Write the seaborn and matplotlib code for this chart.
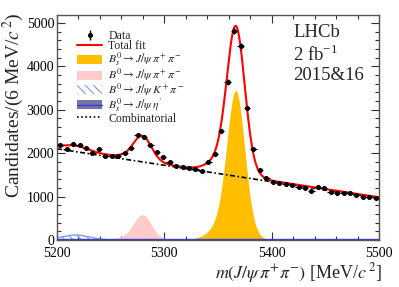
import numpy as np
import seaborn as sns
import matplotlib
matplotlib.use("Agg")
import matplotlib.pyplot as plt
from matplotlib.patches import Patch
from matplotlib.lines import Line2D
from matplotlib.legend_handler import HandlerTuple
from matplotlib.ticker import MultipleLocator


# Data: 6 MeV bins from 5200 to 5500, counts
BIN_LO, BIN_HI, BIN_W = 5200, 5500, 6
bin_centers = np.arange(BIN_LO + BIN_W / 2, BIN_HI, BIN_W)
counts = [2190, 2100, 2210, 2190, 2120, 2000, 2100, 1940, 1930, 1940,
          2010, 2120, 2420, 2370, 2190, 2030, 1910, 1800, 1705, 1680,
          1660, 1635, 1597, 1804, 1980, 2510, 3640, 4815, 4470, 3040,
          2100, 1610, 1430, 1340, 1310, 1290, 1270, 1220, 1200, 1130,
          1220, 1200, 1105, 1080, 1080, 1080, 1040, 990, 990, 970]

# Fit components (parameters estimated from the figure)
# signal peaks: [mean, peak height]
bs_peak = [5366.5, 3440]
b0_peak = [5279.5, 580]
# resolution shape: core fraction, core sigma, left tail sigma, right tail sigma
shape = [0.8, 8.0, 16.0, 11.0]
# B0 -> J/psi K pi reflection: [mean, height, sigma]
kpi = [5217, 115, 13]
# Bs -> J/psi eta' : small flat level
etap_level = 22
# combinatorial: value at 5200 and at 5500
comb_ends = [2100, 962]


def peak(m, mean, height):
    f, s_core, s_left, s_right = shape
    s_tail = np.where(m < mean, s_left, s_right)
    core = f * np.exp(-0.5 * ((m - mean) / s_core) ** 2)
    tail = (1 - f) * np.exp(-0.5 * ((m - mean) / s_tail) ** 2)
    return height * (core + tail)


m = np.linspace(BIN_LO, BIN_HI, 901)
comb = np.interp(m, [BIN_LO, BIN_HI], comb_ends)
sig_bs = peak(m, *bs_peak)
sig_b0 = peak(m, *b0_peak)
sig_kpi = kpi[1] * np.exp(-0.5 * ((m - kpi[0]) / kpi[2]) ** 2)
sig_etap = np.full_like(m, etap_level)
total = comb + sig_bs + sig_b0 + sig_kpi + sig_etap

sns.set_theme(style="ticks")
plt.rcParams['font.family'] = ['Liberation Serif', 'DejaVu Serif']
plt.rcParams['mathtext.fontset'] = 'stix'
plt.rcParams['hatch.linewidth'] = 0.8

fig = plt.figure(figsize=(3.99, 2.87), dpi=100)
ax = fig.add_axes([57 / 399, 47 / 287, 322 / 399, 225 / 287])

orange = '#ffbf00'
pink = '#ffcccc'
kpi_col = '#7f9fe6'
etap_fill = '#7575a8'
etap_line = '#3a3ad0'

ax.fill_between(m, 0, sig_bs, color=orange, lw=0)
ax.fill_between(m, 0, sig_b0, color=pink, lw=0)
ax.fill_between(m, 0, sig_kpi, facecolor='none', edgecolor=kpi_col,
                hatch='\\\\\\\\', lw=0)
ax.plot(m, sig_kpi, color=kpi_col, lw=1.0)
ax.fill_between(m, 0, sig_etap, color=etap_fill, lw=0)
ax.plot(m, sig_etap, color=etap_line, lw=1.0)

sns.lineplot(x=m, y=comb, ax=ax, color='black', lw=1.2,
             linestyle=(0, (3, 1.5, 1, 1.5)))
sns.lineplot(x=m, y=total, ax=ax, color='red', lw=1.5)

counts_arr = np.array(counts, dtype=float)
ax.errorbar(bin_centers, counts_arr, yerr=np.sqrt(counts_arr), xerr=BIN_W / 2,
            fmt='o', ms=2.6, color='black', elinewidth=0.9, capsize=0, zorder=5)

ax.set_xlim(BIN_LO, BIN_HI)
ax.set_ylim(0, 5180)
ax.xaxis.set_major_locator(MultipleLocator(100))
ax.xaxis.set_minor_locator(MultipleLocator(20))
ax.yaxis.set_major_locator(MultipleLocator(1000))
ax.yaxis.set_minor_locator(MultipleLocator(200))
ax.tick_params(which='both', direction='in', top=True, right=True,
               labelsize=10, colors='#333333', labelcolor='black', pad=2)
ax.tick_params(axis='x', which='major', pad=5)
ax.tick_params(which='major', length=6, width=0.8)
ax.tick_params(which='minor', length=3, width=0.8)
for sp in ax.spines.values():
    sp.set_color('#555555')
    sp.set_linewidth(1.0)
ax.set_xlabel('')
ax.set_ylabel('')

fig.text(382 / 399, 1 - 273 / 287,
         r'$m(J/\psi\,\pi^{+}\pi^{-})$ [MeV/$c^{\,2}$]',
         ha='right', va='center', fontsize=13)
fig.text(13 / 399, 1 - 12 / 287, r'Candidates/(6 MeV/$c^{\,2}$)',
         rotation=90, ha='center', va='top', fontsize=14)

for txt, ypx in [('LHCb', 33), (r'2 fb$^{\mathregular{-1}}$', 55),
                 ('2015&16', 76)]:
    fig.text(293 / 399, 1 - ypx / 287, txt, ha='left', va='center',
             fontsize=13.5)

h_data = Line2D([], [], marker='o', ms=2.6, color='black', lw=0)
h_err = Line2D([], [], marker='|', ms=7, color='black', lw=0)
h_fit = Line2D([], [], color='red', lw=1.5)
h_bs = Patch(facecolor=orange, edgecolor='none')
h_b0 = Patch(facecolor=pink, edgecolor='none')
h_kpi = Patch(facecolor='white', edgecolor=kpi_col, hatch='\\\\\\\\', lw=0)
h_etap = (Patch(facecolor=etap_fill, edgecolor='none'),
          Line2D([], [], color=etap_line, lw=1.0))
h_comb = Line2D([], [], color='black', lw=1.2, linestyle=(0, (1, 1.5)))

labels = ['Data', 'Total fit',
          r'$B_s^0 \rightarrow J/\psi\,\pi^+\pi^-$',
          r'$B^0 \rightarrow J/\psi\,\pi^+\pi^-$',
          r'$B^0 \rightarrow J/\psi\,K^+\pi^-$',
          r"$B_s^0 \rightarrow J/\psi\,\eta'$",
          'Combinatorial']
leg = ax.legend([(h_err, h_data), h_fit, h_bs, h_b0, h_kpi, h_etap, h_comb],
                labels, loc='upper left', bbox_to_anchor=(0.048, 0.955),
                frameon=False, fontsize=8.5, labelspacing=-0.12,
                handlelength=2.1, handleheight=0.8, handletextpad=0.55,
                borderaxespad=0,
                handler_map={tuple: HandlerTuple(ndivide=1, pad=0)})

fig.savefig('out.png', dpi=100)
